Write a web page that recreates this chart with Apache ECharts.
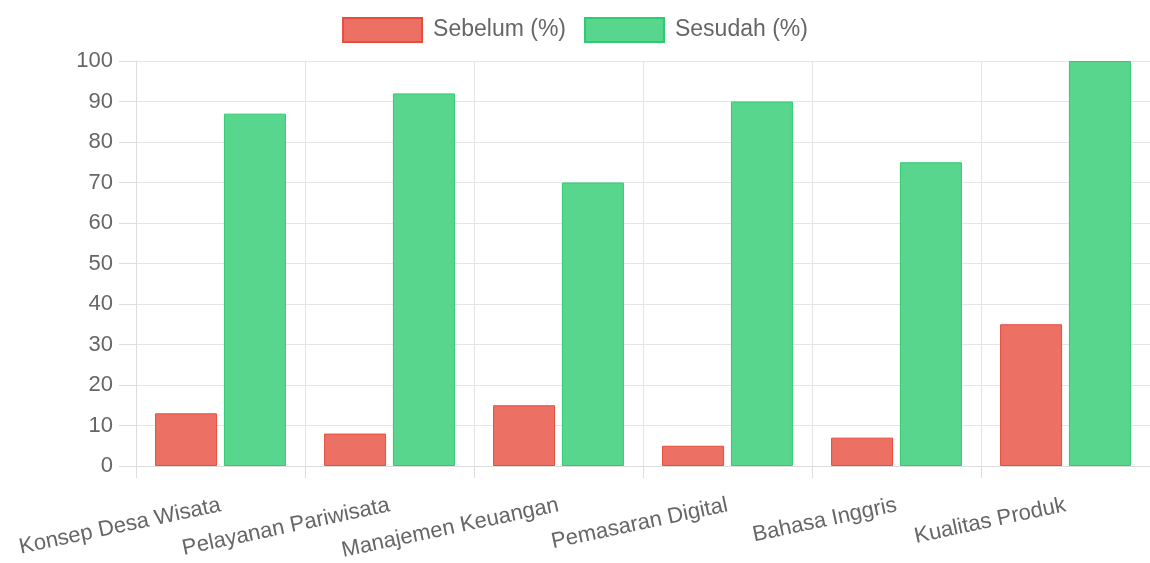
<!DOCTYPE html>
<html>
<head>
<meta charset="utf-8">
<script src="https://cdn.jsdelivr.net/npm/echarts@6/dist/echarts.min.js"></script>
<style>
html,body{margin:0;padding:0;background:#fff;}
#chart{width:1150px;height:563px;}
</style>
</head>
<body>
<div id="chart"></div>
<script>
const categories = ["Konsep Desa Wisata", "Pelayanan Pariwisata", "Manajemen Keuangan", "Pemasaran Digital", "Bahasa Inggris", "Kualitas Produk"];
const sebelum = [13, 8, 15, 5, 7, 35];
const sesudah = [87, 92, 70, 90, 75, 100];
const yTicks = { min: 0, max: 100, interval: 10 };

const FONT = '"Liberation Sans", Arial, sans-serif';
const chart = echarts.init(document.getElementById('chart'), null, { renderer: 'canvas' });
chart.setOption({
  animation: false,
  textStyle: { fontFamily: FONT },
  legend: {
    top: 12,
    left: 'center',
    icon: 'rect',
    itemWidth: 79,
    itemHeight: 24,
    itemGap: 18,
    textStyle: { fontSize: 23, color: '#666', fontFamily: FONT, padding: [0, 0, 0, 6] },
    data: ['Sebelum (%)', 'Sesudah (%)']
  },
  grid: { left: 136, top: 61, width: 1018, height: 405, containLabel: false },
  xAxis: {
    type: 'category',
    data: categories,
    boundaryGap: true,
    axisLine: { show: true, lineStyle: { color: '#dddddd', width: 1 } },
    axisTick: { show: true, length: 12, lineStyle: { color: '#dddddd' } },
    splitLine: { show: true, lineStyle: { color: '#e5e5e5', width: 1 } },
    axisLabel: { rotate: 12, fontSize: 22, color: '#666', fontFamily: FONT, margin: 39, interval: 0 }
  },
  yAxis: {
    type: 'value',
    min: yTicks.min,
    max: yTicks.max,
    interval: yTicks.interval,
    axisLine: { show: true, lineStyle: { color: '#dddddd', width: 1 } },
    axisTick: { show: true, length: 17, lineStyle: { color: '#dddddd' } },
    splitLine: { show: true, lineStyle: { color: '#e5e5e5', width: 1 } },
    axisLabel: { fontSize: 22, color: '#666', fontFamily: FONT, margin: 23 }
  },
  series: [
    {
      name: 'Sebelum (%)',
      type: 'bar',
      data: sebelum,
      barWidth: 62,
      barGap: '11%',
      itemStyle: { color: '#ec7063', borderColor: '#e74c3c', borderWidth: 1 }
    },
    {
      name: 'Sesudah (%)',
      type: 'bar',
      data: sesudah,
      barWidth: 62,
      barGap: '11%',
      itemStyle: { color: '#58d68d', borderColor: '#2ecc71', borderWidth: 1 }
    }
  ]
});
</script>
</body>
</html>
